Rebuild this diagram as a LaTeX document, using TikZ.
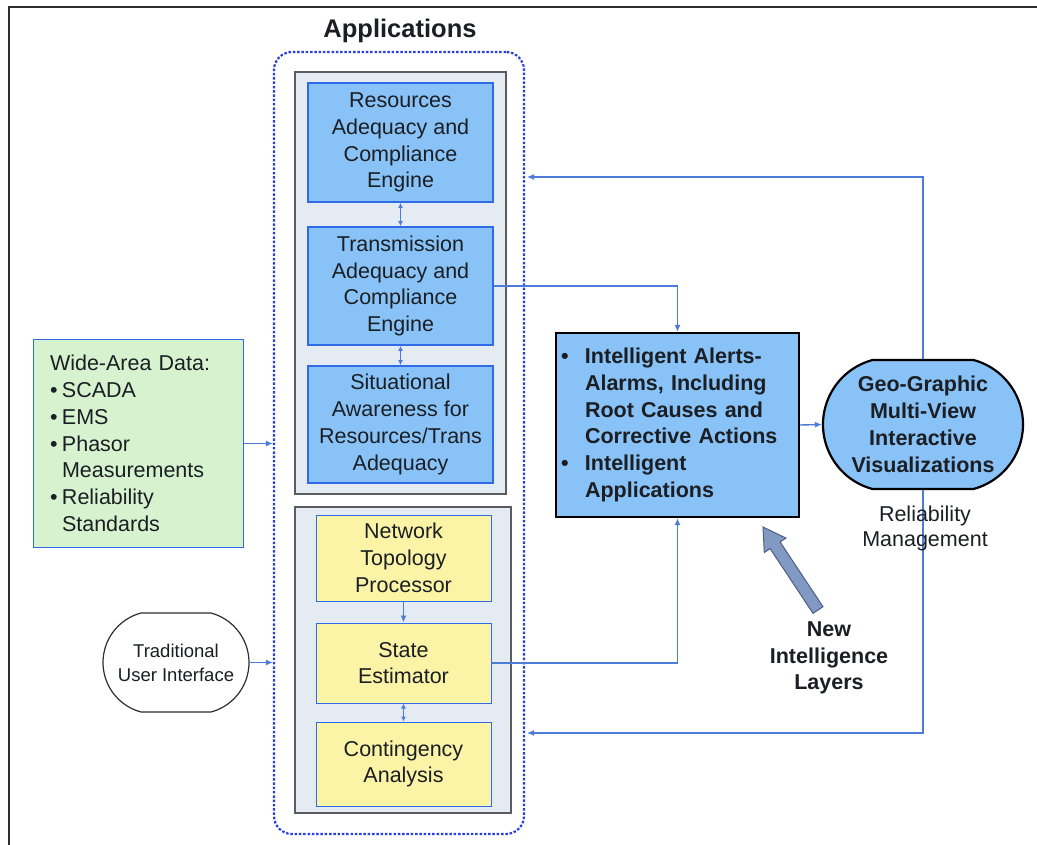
\documentclass[tikz,border=0pt]{standalone}
\usepackage{fontspec}
\setmainfont{Liberation Sans}
\usetikzlibrary{arrows.meta,shapes.misc}
\definecolor{ink}{HTML}{1B1F24}
\definecolor{boxblue}{HTML}{88C2F6}
\definecolor{edgeblue}{HTML}{2F6BE6}
\definecolor{paleyellow}{HTML}{FBF3A6}
\definecolor{palegreen}{HTML}{D6F2CF}
\definecolor{panel}{HTML}{E5EBF3}
\definecolor{paneledge}{HTML}{5C5C5C}
\definecolor{wirecol}{HTML}{4C7BD9}
\definecolor{dotblue}{HTML}{2A3FE0}
\definecolor{framecol}{HTML}{2E2E2E}
\definecolor{layerfill}{HTML}{8299C4}
\definecolor{layeredge}{HTML}{4C5D85}
\newcommand{\wdbullet}{\makebox[12pt][l]{\textbullet}}
\newcommand{\wdindent}{\hspace*{12pt}}
\newcommand{\ibullet}{\makebox[24pt][l]{\textbullet}}
\newcommand{\iindent}{\hspace*{24pt}}
\begin{document}
\begin{tikzpicture}[x=1pt,y=-1pt,
  lbl/.style={font=\fontsize{21.5}{26.8}\selectfont, text=ink},
  blbl/.style={font=\fontsize{21.5}{26.8}\selectfont\bfseries, text=ink},
  appbox/.style={draw=edgeblue, line width=1.8pt, fill=boxblue, minimum width=185, inner sep=0pt, align=center, lbl},
  corebox/.style={draw=edgeblue, line width=1pt, fill=paleyellow, minimum width=175, inner sep=0pt, align=center, lbl},
  panelbox/.style={draw=paneledge, line width=1.2pt, fill=panel, inner sep=0pt},
  wire/.style={draw=wirecol, line width=1.4pt},
  tip/.style={-{Latex[length=7pt,width=6pt]}},
  twotip/.style={{Latex[length=5pt,width=5pt]}-{Latex[length=5pt,width=5pt]}},
]
\useasboundingbox (0,0) rectangle (1037,845);
\fill[white] (0,0) rectangle (1037,845);
\draw[framecol, line width=2.5pt] (9,845) -- (9,7) -- (1037,7);

% application group
\node[draw=dotblue, line width=2.2pt, dash pattern=on 2.5pt off 1.8pt, rounded corners=18pt,
      minimum width=250, minimum height=782, inner sep=0pt] (apps) at (399,443) {};
\node[font=\fontsize{25.5}{30}\selectfont\bfseries, text=ink] (title) at (400,31) {Applications};

\node[panelbox, minimum width=211, minimum height=422] (upper) at (400.5,283) {};
\node[panelbox, minimum width=216, minimum height=306] (lower) at (403,660) {};

\node[appbox, minimum height=119] (res) at (400.5,142.5) {Resources\\Adequacy and\\Compliance\\Engine};
\node[appbox, minimum height=118] (trans) at (400.5,286) {Transmission\\Adequacy and\\Compliance\\Engine};
\node[appbox, minimum height=117] (sit) at (400.5,424.5) {Situational\\Awareness for\\Resources/Trans\\Adequacy};

\node[corebox, minimum height=86] (topo) at (403.5,558) {Network\\Topology\\Processor};
\node[corebox, minimum height=80] (se) at (403.5,663) {State\\Estimator};
\node[corebox, minimum height=84] (ca) at (403.5,764) {Contingency\\Analysis};

% inputs
\node[draw=edgeblue, line width=1pt, fill=palegreen, minimum height=207, text width=176,
      inner xsep=17pt, inner ysep=0pt, align=left, lbl] (wide) at (138,443.5)
  {Wide-Area Data:\\\wdbullet SCADA\\\wdbullet EMS\\\wdbullet Phasor\\\wdindent Measurements\\\wdbullet Reliability\\\wdindent Standards};

\node[draw=framecol, line width=1.2pt, fill=white, rounded rectangle, rounded rectangle arc length=150,
      minimum width=146, minimum height=99, inner sep=0pt,
      label={[font=\fontsize{18.5}{24}\selectfont, text=ink, align=center]center:Traditional\\User Interface}] (tui) at (176,662.5) {};

% intelligence layer
\node[draw=black, line width=2.2pt, fill=boxblue, minimum height=184, text width=233,
      inner xsep=5pt, inner ysep=0pt, align=left, blbl] (intel) at (677.5,425)
  {\ibullet Intelligent Alerts-\\\iindent Alarms, Including\\\iindent Root Causes and\\\iindent Corrective Actions\\\ibullet Intelligent\\\iindent Applications};

\node[draw=black, line width=2.2pt, fill=boxblue, rounded rectangle, rounded rectangle arc length=150,
      minimum width=200, minimum height=129, inner sep=0pt,
      label={[blbl, align=center]center:Geo-Graphic\\Multi-View\\Interactive\\Visualizations}] (geo) at (923,424.5) {};

\coordinate (appsTop) at (527,177);
\coordinate (appsBot) at (527,733);

% connectors
\draw[wire, twotip] (res.south) -- (trans.north);
\draw[wire, twotip] (trans.south) -- (sit.north);
\draw[wire, tip] (topo.south) -- (se.north);
\draw[wire, twotip] (se.south) -- (ca.north);
\draw[wire, tip] (trans.east) -| (intel.north);
\draw[wire, tip] (se.east) -| (intel.south);
\draw[wire, tip] (intel.east) -- (geo.west);
\draw[wire, line width=1.2pt, tip] (geo.north) |- (appsTop);
\draw[wire, line width=1.2pt, tip] (geo.south) |- (appsBot);
\draw[wire, tip] (wide.east) -- (wide.east -| apps.west);
\draw[wire, tip] (tui.east) -- (tui.east -| apps.west);

\node[font=\fontsize{21.5}{25}\selectfont, text=ink, align=center] (relmgmt) at (925,528) {Reliability\\Management};

% new intelligence marker
\draw[fill=layerfill, draw=layeredge, line width=1pt]
  (823,606.7) -- (780.1,542.0) -- (785.9,538.1) -- (763,527) -- (764.3,552.5) -- (770.1,548.6) -- (813,613.3) -- cycle;
\node[blbl, align=center] (nil) at (829,658) {New\\Intelligence\\Layers};
\end{tikzpicture}
\end{document}
